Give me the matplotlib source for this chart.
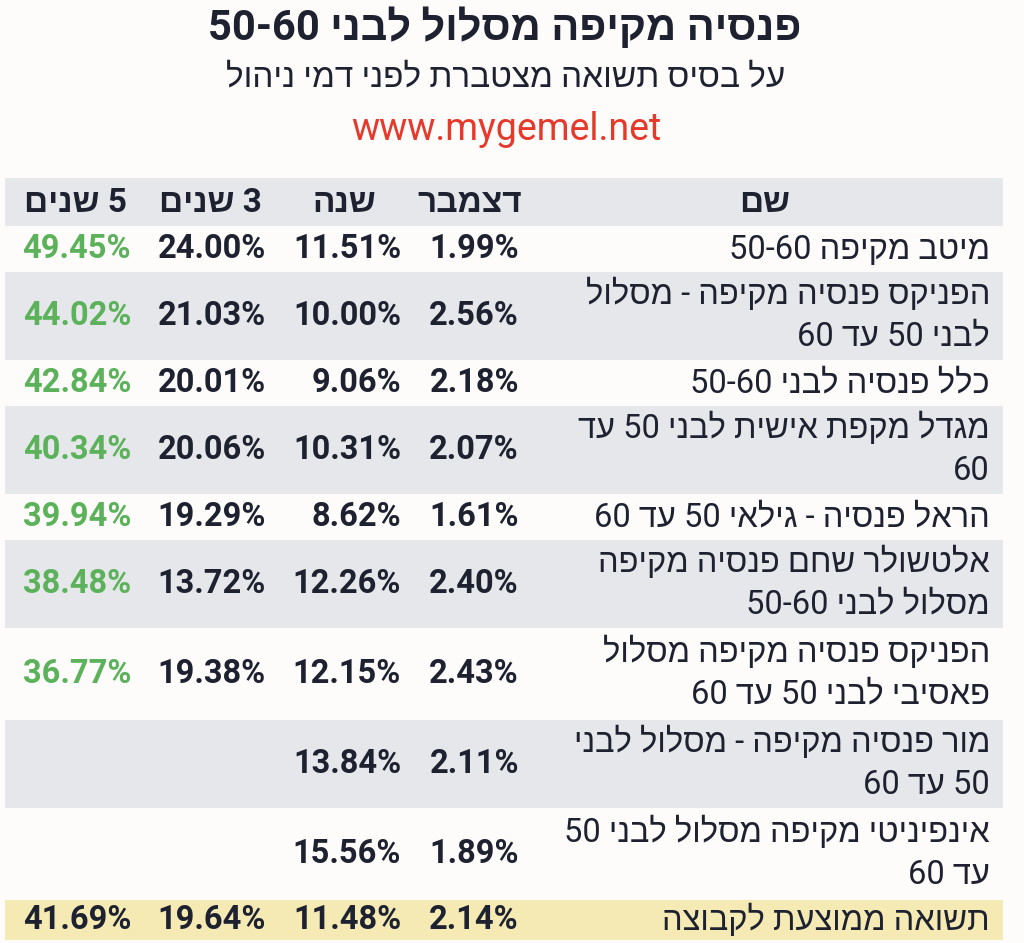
import matplotlib.pyplot as plt
from matplotlib.patches import Rectangle

plt.rcParams['font.family'] = ['Roboto', 'Liberation Sans', 'DejaVu Sans']

TITLE = "פנסיה מקיפה מסלול לבני 50-60"
SUBTITLE = "על בסיס תשואה מצטברת לפני דמי ניהול"
URL = "www.mygemel.net"

HEADERS = ["שם", "דצמבר", "שנה", "3 שנים", "5 שנים"]

# each name split into its display lines
NAMES = [
    ["מיטב מקיפה 50-60"],
    ["הפניקס פנסיה מקיפה - מסלול", "לבני 50 עד 60"],
    ["כלל פנסיה לבני 50-60"],
    ["מגדל מקפת אישית לבני 50 עד", "60"],
    ["הראל פנסיה - גילאי 50 עד 60"],
    ["אלטשולר שחם פנסיה מקיפה", "מסלול לבני 50-60"],
    ["הפניקס פנסיה מקיפה מסלול", "פאסיבי לבני 50 עד 60"],
    ["מור פנסיה מקיפה - מסלול לבני", "50 עד 60"],
    ["אינפיניטי מקיפה מסלול לבני 50", "עד 60"],
]
DEC = [1.99, 2.56, 2.18, 2.07, 1.61, 2.40, 2.43, 2.11, 1.89]
YEAR = [11.51, 10.00, 9.06, 10.31, 8.62, 12.26, 12.15, 13.84, 15.56]
Y3 = [24.00, 21.03, 20.01, 20.06, 19.29, 13.72, 19.38, None, None]
Y5 = [49.45, 44.02, 42.84, 40.34, 39.94, 38.48, 36.77, None, None]

AVG_NAME = "תשואה ממוצעת לקבוצה"
AVG = [2.14, 11.48, 19.64, 41.69]

DARK = '#1e2230'
GREEN = '#5cb25a'
GRAY = '#e6e7ea'
YELLOW = '#f5eab3'


def vis(s):
    # crude right-to-left ordering for drawing
    words = s.split(' ')
    out = []
    for w in words:
        if any('\u0590' <= c <= '\u05ff' for c in w):
            out.append(w[::-1])
        else:
            out.append(w)
    return ' '.join(out[::-1])


def pct(v):
    return '' if v is None else '%.2f%%' % v


fig = plt.figure(figsize=(10.24, 9.43), dpi=100)
fig.patch.set_facecolor('#fdfcfb')
ax = fig.add_axes([0, 0, 1, 1])
ax.set_xlim(0, 1024)
ax.set_ylim(943, 0)
ax.axis('off')

ax.text(505, 28, vis(TITLE), ha='center', va='center', fontsize=30,
        fontweight='bold', color=DARK)
ax.text(506, 78, vis(SUBTITLE), ha='center', va='center', fontsize=24,
        color=DARK)
ax.text(506, 130, URL, ha='center', va='center', fontsize=27,
        color='#e5392b')

X0, X1 = 5, 1003
NAME_X = 990
COL_X = [519, 401, 266, 131]   # right edges of value columns
HEAD_X = [522, 376, 262, 127]
LINE_H = 43

# header band
ax.add_patch(Rectangle((X0, 178), X1 - X0, 48, color=GRAY, lw=0))
ax.text(765, 203, vis(HEADERS[0]), ha='center', va='center', fontsize=24,
        fontweight='bold', color=DARK)
for hx, h in zip(HEAD_X, HEADERS[1:]):
    ax.text(hx, 203, vis(h), ha='right', va='center', fontsize=24,
            fontweight='bold', color=DARK)

y = 228
for i, lines in enumerate(NAMES):
    n = len(lines)
    h = 44 if n == 1 else 90
    if i % 2 == 1:
        ax.add_patch(Rectangle((X0, y), X1 - X0, h - 2, color=GRAY, lw=0))
    for k, line in enumerate(lines):
        ax.text(NAME_X, y + 22 + k * LINE_H, vis(line), ha='right',
                va='center', fontsize=23.5, color=DARK)
    cy = y + (h - 2) / 2
    vals = [DEC[i], YEAR[i], Y3[i], Y5[i]]
    for j, (cx, v) in enumerate(zip(COL_X, vals)):
        ax.text(cx, cy, pct(v), ha='right', va='center', fontsize=23.5,
                fontweight='bold', color=GREEN if j == 3 else DARK)
    y += h

# average row
ax.add_patch(Rectangle((X0, y), X1 - X0, 40, color=YELLOW, lw=0))
ax.text(NAME_X, y + 20, vis(AVG_NAME), ha='right', va='center',
        fontsize=23.5, color=DARK)
for cx, v in zip(COL_X, AVG):
    ax.text(cx, y + 20, pct(v), ha='right', va='center', fontsize=23.5,
            fontweight='bold', color=DARK)

fig.savefig('out.png', dpi=100, facecolor=fig.get_facecolor())
